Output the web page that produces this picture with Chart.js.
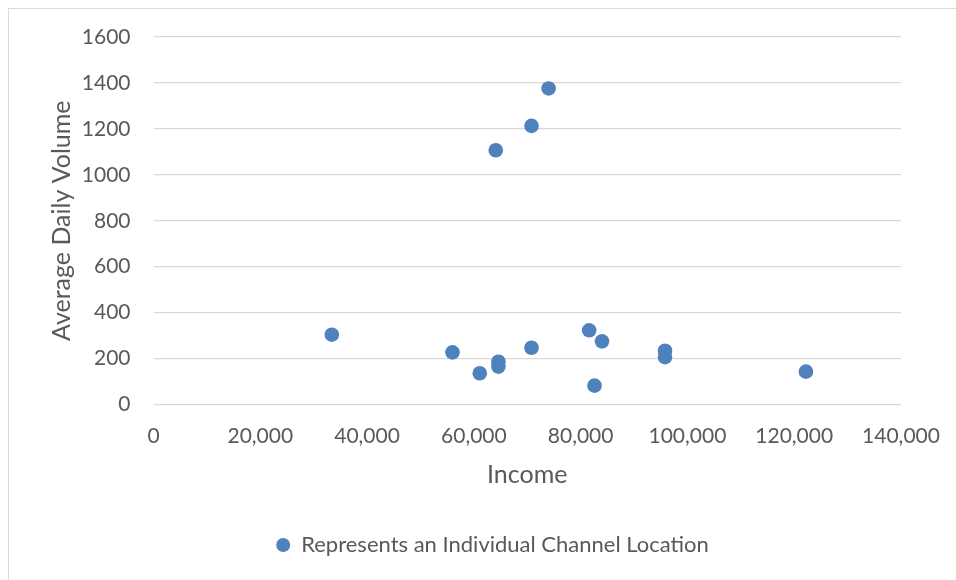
<!DOCTYPE html>
<html>
<head>
<meta charset="utf-8">
<script src="https://cdn.jsdelivr.net/npm/chart.js@4/dist/chart.umd.min.js"></script>
<style>
  html, body { margin: 0; padding: 0; background: #ffffff; }
  #wrap { position: relative; width: 956px; height: 580px; }
</style>
</head>
<body>
<div id="wrap"><canvas id="chart" width="956" height="580"></canvas></div>
<script>
// Income per channel location and its average daily volume
const income = [74000, 70800, 64100, 33400, 56000, 61100, 64600, 64600, 70800, 81600, 84000, 82600, 95800, 95800, 122200];
const dailyVolume = [1376, 1213, 1107, 304, 227, 136, 186, 165, 247, 323, 275, 82, 234, 206, 143];
const seriesLabel = 'Represents an Individual Channel Location';
const xTitle = 'Income';
const yTitle = 'Average Daily Volume';

const points = income.map((x, i) => ({ x: x, y: dailyVolume[i] }));

const textColor = '#595959';
const gridColor = '#d9d9d9';
const fontFamily = 'Lato, "Open Sans", sans-serif';

// light frame around the whole chart
const framePlugin = {
  id: 'frame',
  beforeDraw(chart) {
    const ctx = chart.ctx;
    ctx.save();
    ctx.fillStyle = '#ffffff';
    ctx.fillRect(0, 0, chart.width, chart.height);
    ctx.strokeStyle = '#d9d9d9';
    ctx.lineWidth = 1;
    ctx.strokeRect(8.5, 8.5, chart.width, chart.height);
    ctx.restore();
  }
};

new Chart(document.getElementById('chart'), {
  type: 'scatter',
  data: {
    datasets: [{
      label: seriesLabel,
      data: points,
      backgroundColor: '#4f81bd',
      borderColor: '#4f81bd',
      borderWidth: 0,
      pointRadius: 7.3,
      pointHoverRadius: 7.3
    }]
  },
  options: {
    responsive: false,
    animation: false,
    layout: { padding: { left: 29, right: 0, top: 37, bottom: 14 } },
    plugins: {
      tooltip: { enabled: false },
      legend: {
        position: 'bottom',
        labels: {
          usePointStyle: true,
          pointStyle: 'circle',
          pointStyleWidth: 14,
          boxHeight: 10,
          padding: 10,
          color: textColor,
          font: { family: fontFamily, size: 22 }
        }
      }
    },
    scales: {
      x: {
        type: 'linear',
        min: 0,
        max: 140000,
        grid: { display: false, drawTicks: false },
        border: { display: false },
        ticks: {
          stepSize: 20000,
          padding: 18.7,
          color: textColor,
          font: { family: fontFamily, size: 21 },
          maxRotation: 0,
          callback: v => v.toLocaleString('en-US')
        },
        title: {
          display: true,
          text: xTitle,
          color: textColor,
          font: { family: fontFamily, size: 25 },
          padding: { top: 0, bottom: 34 }
        },
        afterFit(scale) {
          scale.height = 119.5;
          scale.paddingRight = 55;
        }
      },
      y: {
        type: 'linear',
        min: 0,
        max: 1600,
        grid: { color: gridColor, lineWidth: 1.3, drawTicks: false },
        border: { display: false },
        ticks: {
          stepSize: 200,
          padding: 23,
          color: textColor,
          font: { family: fontFamily, size: 21 },
          callback: v => String(v)
        },
        title: {
          display: true,
          text: yTitle,
          color: textColor,
          font: { family: fontFamily, size: 25 },
          padding: { top: 18, bottom: 0 }
        },
        afterFit(scale) {
          scale.width = 124.5;
        }
      }
    }
  },
  plugins: [framePlugin]
});
</script>
</body>
</html>
